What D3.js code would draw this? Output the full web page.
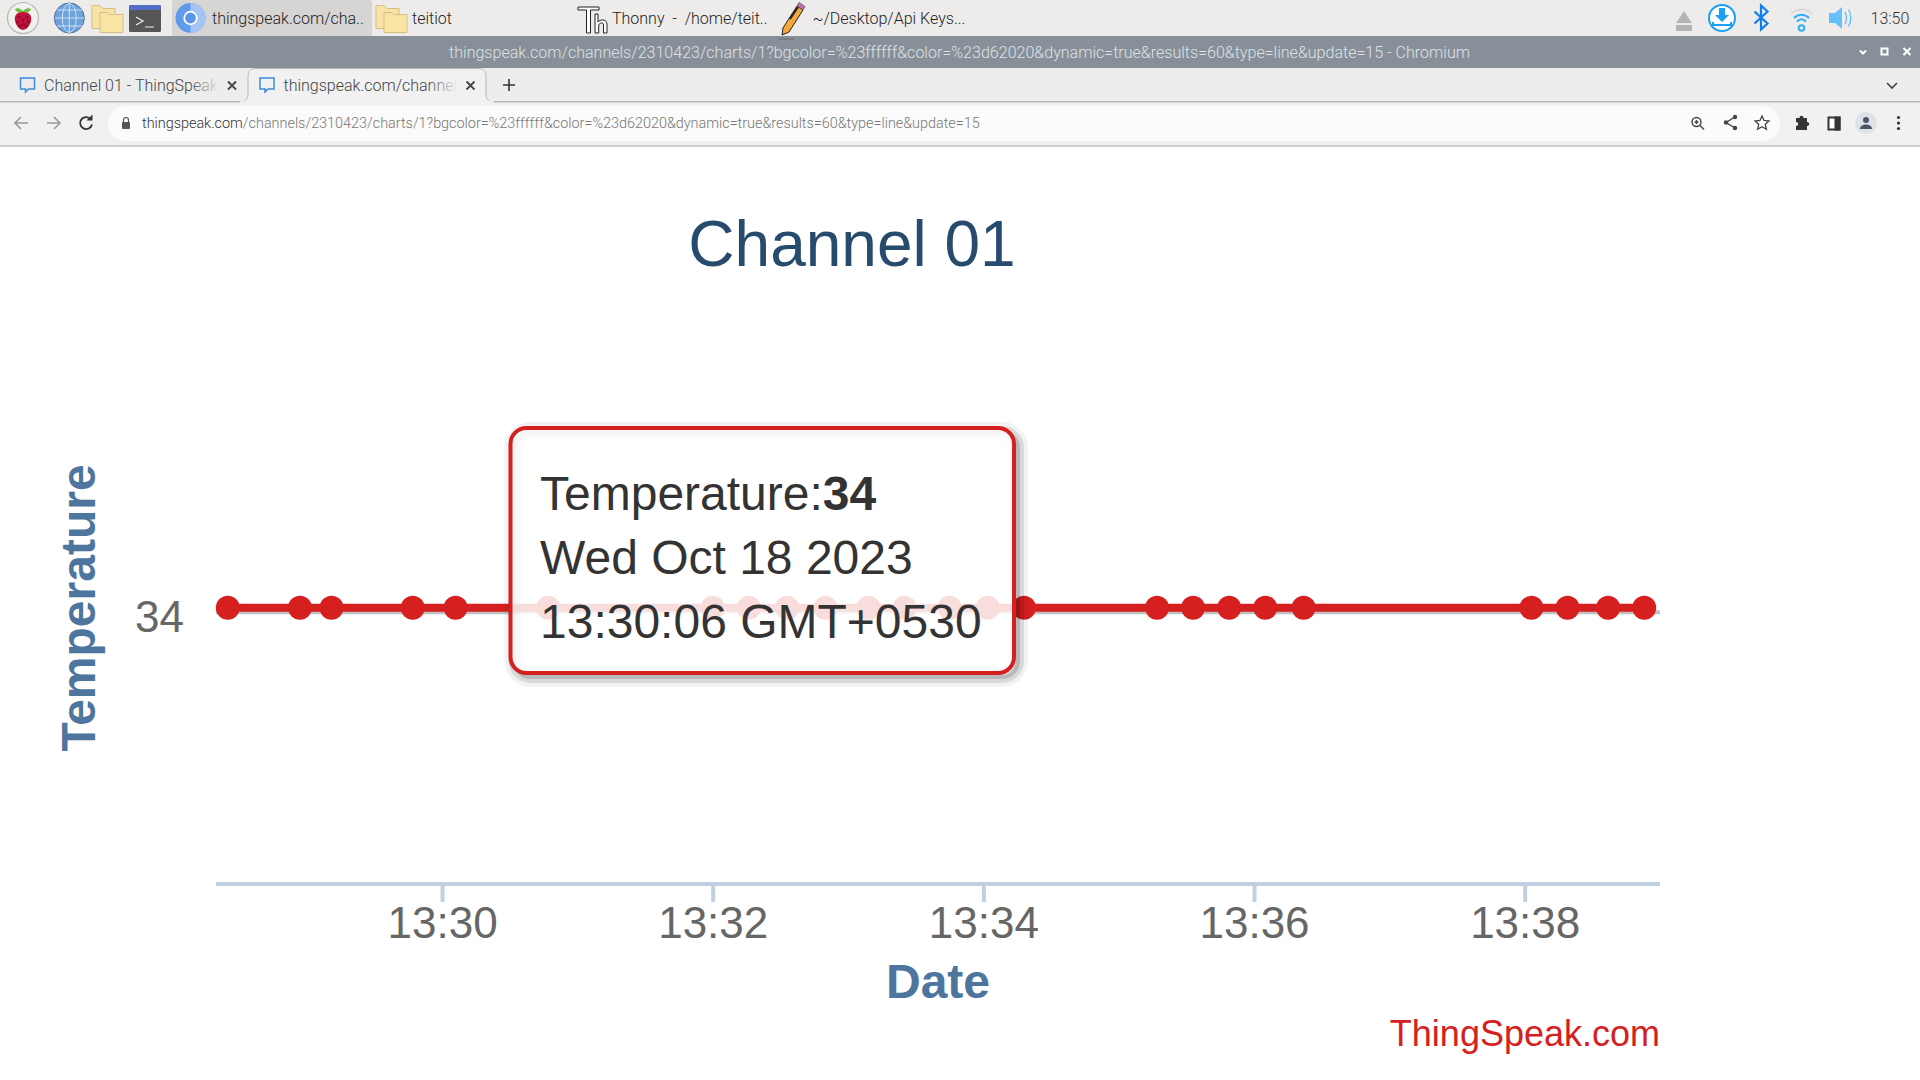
<!DOCTYPE html>
<html><head><meta charset="utf-8"><title>Channel 01</title>
<script src="https://d3js.org/d3.v7.min.js"></script>
<style>html,body{margin:0;padding:0;background:#fff;overflow:hidden}svg{display:block}
.ui{font-family:Roboto,sans-serif;font-weight:300}
.ch{font-family:"Liberation Sans",Arial,sans-serif}</style></head><body>
<svg id="s" width="1920" height="1080" xmlns="http://www.w3.org/2000/svg"></svg>
<script>
// ---- data ----
const chartTitle = "Channel 01";
const seriesName = "Temperature";
const xTitle = "Date";
const credit = "ThingSpeak.com";
const sampleTimes = ["13:28:25","13:28:57","13:29:11","13:29:47","13:30:06","13:30:47","13:32:00","13:32:16","13:32:33","13:32:50","13:33:09","13:33:25","13:33:45","13:34:02","13:34:18","13:35:17","13:35:33","13:35:49","13:36:05","13:36:22","13:38:03","13:38:19","13:38:37","13:38:53"];
const temperatures = [34,34,34,34,34,34,34,34,34,34,34,34,34,34,34,34,34,34,34,34,34,34,34,34];
const xTickLabels = ["13:30","13:32","13:34","13:36","13:38"];
const yTickLabels = [34];
const axisStart = "13:28:20", axisEnd = "13:39:00";
const tooltipLines = ["Wed Oct 18 2023","13:30:06 GMT+0530"];
const tooltipLabel = "Temperature:", tooltipValue = "34";

const parseT = d3.timeParse("%Y-%m-%d %H:%M:%S");
const T = s => parseT("2023-10-18 " + (s.length===5 ? s+":00" : s));
const data = sampleTimes.map((t,i)=>({t:T(t),v:temperatures[i]}));

const svg = d3.select("#s");
const RED="#d62020";

// ---- browser chrome ----
const ui = svg.append("g").attr("class","ui");
const defs = svg.append("defs");
const rect=(p,x,y,w,h,f,r)=>p.append("rect").attr("x",x).attr("y",y).attr("width",w).attr("height",h).attr("fill",f).attr("rx",r||0);
const path=(p,d,f,st,sw)=>p.append("path").attr("d",d).attr("fill",f||"none").attr("stroke",st||"none").attr("stroke-width",sw||1);
const circ=(p,x,y,r,f,st,sw)=>p.append("circle").attr("cx",x).attr("cy",y).attr("r",r).attr("fill",f||"none").attr("stroke",st||"none").attr("stroke-width",sw||1);
const text=(p,x,y,s,size,f,anc)=>p.append("text").attr("x",x).attr("y",y).attr("font-size",size).attr("fill",f).attr("text-anchor",anc||"start").text(s);

rect(ui,0,0,1920,36,"#edecea");
rect(ui,172,0,200,36,"#d6d5d3",2);
rect(ui,0,36,1920,32,"#879099");
rect(ui,0,68,1920,33,"#ededed");
rect(ui,0,101,1920,44,"#f1f1f1");
rect(ui,0,145,1920,2,"#cfcfcf");
rect(ui,0,101,1920,1.5,"#b6b6b6");
rect(ui,108,106,1672,35,"#fbfbfb",17.5);

// active tab
path(ui,"M240 101.5 C246 101.5 248 99 248 94 L248 76 C248 71 251 68.5 256 68.5 L478 68.5 C483 68.5 486 71 486 76 L486 94 C486 99 488 101.5 494 101.5 Z","#f1f1f1","#b6b6b6",1);
rect(ui,240,100.5,254,3,"#f1f1f1");

// task bar icons
circ(ui,23,18,15.5,"#f0f0ee","#b9b9b9",1.2);
path(ui,"M15 9 C18 7 21 9 23 11 C25 9 28 7 31 9 C30 12 27 13 23 13 C19 13 16 12 15 9Z","#6cbf3c");
path(ui,"M23 12 C29 12 32 15 31 21 C30 26 26 30 23 30 C20 30 16 26 15 21 C14 15 17 12 23 12Z","#c5113c");
[[19,17],[27,17],[23,20],[17.5,22],[28.5,22],[20,26],[26,26],[23,24.5]].forEach(([x,y])=>circ(ui,x,y,1.6,"#8f0a2c"));
circ(ui,69.3,18,15,"#6ea3dc","#4f6f93",1);
const gl=ui.append("g").attr("stroke","#cfe0f3").attr("stroke-width",1).attr("fill","none");
gl.append("ellipse").attr("cx",69.3).attr("cy",18).attr("rx",7).attr("ry",14.5);
gl.append("path").attr("d","M69.3 3.5V32.5M55 18H84M57 10H82M57 26H82");
const folder=(x,y,s)=>{
 path(ui,`M${x} ${y}h${8*s}l${3*s} ${3*s}h${12*s}v${20*s}h${-23*s}z`,"#f7e3a6","#d6bf85",1);
 path(ui,`M${x+8*s} ${y+7*s}h${8*s}l${2*s} ${2*s}h${13*s}v${18*s}h${-23*s}z`,"#f9e4a4","#d6bf85",1);
};
folder(92,5.5,1);folder(376,5.5,1);
rect(ui,129,5,32,27,"#565656",1.5);rect(ui,129,5,32,5,"#5470c6",1.5);
path(ui,"M136 17l7 4-7 4M145 27h9",null,"#eee",1.2);
const chromeIcon=(x,y,r)=>{circ(ui,x,y,r,"#5f9bea");path(ui,`M${x} ${y-r}A${r} ${r} 0 0 1 ${x} ${y+r}Z`,"#a4c5f4");circ(ui,x,y,r*.48,"#fff");circ(ui,x,y,r*.36,"#5a95ea");};
chromeIcon(190.5,18,15);
// Thonny
const th=ui.append("g").attr("fill","#fff").attr("stroke","#222").attr("stroke-width",1);
th.append("path").attr("d","M578 7h21v3h-8.5v23h-4V10H578z");
th.append("path").attr("d","M595 14h3v8c1-1.5 3-2 4.500-2 3 0 4.500 1.500 4.500 5v8h-3.500v-8c0-1.500-.5-2-1.800-2-1.700 0-3 1-3 3v7H595z");
// pencil
path(ui,"M783 28 L797 6 L803 10 L789 32 L782 35Z","#f2a73b","#222",1);
path(ui,"M797 6l2-3.500 6 4-2 3.500z","#c86cb0","#555",.8);
path(ui,"M790 19l8-12","none","#222",2);
path(ui,"M779 39h15",null,"#666",1);
// tray
path(ui,"M1684 11l8 12h-16zM1676 25h16v6h-16z","#b4b4b4");
circ(ui,1722,18,13,"#fff","#1da0f2",2);
path(ui,"M1719 8h6v7h4l-7 7-7-7h4z","#1da0f2");
path(ui,"M1713 22v3h18v-3",null,"#1da0f2",2);
path(ui,"M1754.500 11.500l13 12-6.500 6v-24l6.500 6-13 12",null,"#0e7ef0",2.2);
path(ui,"M1791 14c6-6 15-6 21 0",null,"#d9d9d9",2);
path(ui,"M1794 18c4-4.500 11-4.500 15 0",null,"#2fb0f7",2);
path(ui,"M1797 21.500c3-3 6-3 9 0",null,"#2fb0f7",2);
circ(ui,1801.500,28,2.800,"none","#2fb0f7",2);
path(ui,"M1829 13h6l7-6v22l-7-6h-6z","#66c1fa");
path(ui,"M1845 12c2 3 2 9 0 12M1848.500 9.500c3 5 3 12 0 17",null,"#66c1fa",1.4);
text(ui,1870.500,23.500,"13:50",16,"#333");
text(ui,212,23.500,"thingspeak.com/cha..",16,"#222");
text(ui,412,23.500,"teitiot",16,"#222");
text(ui,612,23.500,"Thonny  -  /home/teit..",16,"#222").style("white-space","pre");
text(ui,812.500,23.500,"~/Desktop/Api Keys...",16,"#222");

// title bar
text(ui,959.500,57.500,"thingspeak.com/channels/2310423/charts/1?bgcolor=%23ffffff&color=%23d62020&dynamic=true&results=60&type=line&update=15 - Chromium",16.06,"#dfe2e5","middle");
path(ui,"M1860 50.500l3 3 3-3",null,"#fff",2);
path(ui,"M1881.500 48.500h6v6h-6z",null,"#fff",2);
path(ui,"M1903.500 48l7 7M1910.500 48l-7 7",null,"#fff",2);

// tabs
const bubble=x=>path(ui,`M${x} 78h14v11h-6l-3 3v-3h-5z`,"none","#3d8bdc",1.5);
bubble(20.500);bubble(260);
const fade=defs.append("linearGradient").attr("id","f1");
fade.append("stop").attr("offset",0).attr("stop-color","#ededed").attr("stop-opacity",0);
fade.append("stop").attr("offset",1).attr("stop-color","#ededed");
const fade2=defs.append("linearGradient").attr("id","f2");
fade2.append("stop").attr("offset",0).attr("stop-color","#f1f1f1").attr("stop-opacity",0);
fade2.append("stop").attr("offset",1).attr("stop-color","#f1f1f1");
defs.append("clipPath").attr("id","c1").append("rect").attr("x",40).attr("y",70).attr("width",180).attr("height",30);
defs.append("clipPath").attr("id","c2").append("rect").attr("x",280).attr("y",70).attr("width",178).attr("height",30);
text(ui,44,90.500,"Channel 01 - ThingSpeak",16,"#444").attr("clip-path","url(#c1)");
text(ui,283.500,90.500,"thingspeak.com/channels",16,"#444").attr("clip-path","url(#c2)");
rect(ui,190,70,30,30,"url(#f1)");rect(ui,428,70,30,30,"url(#f2)");
const x_=(x,y)=>path(ui,`M${x-4} ${y-4}l8 8M${x+4} ${y-4}l-8 8`,null,"#444",1.8);
x_(232,85.500);x_(470.500,85.500);
path(ui,"M509 79v12M503 85h12",null,"#333",1.6);
path(ui,"M1887 83l5 5 5-5",null,"#444",1.6);

// toolbar
path(ui,"M28 123H15M21 117l-6 6 6 6",null,"#999",1.6);
path(ui,"M47 123h13M54 117l6 6-6 6",null,"#999",1.6);
path(ui,"M91 119.500a6 6 0 1 0 1 5",null,"#333",1.8);
path(ui,"M92.500 114.500v6h-6z","#333");
rect(ui,122,122,8,7,"#555",1);
path(ui,"M123.500 122v-2a2.500 2.500 0 0 1 5 0v2",null,"#555",1.2);
const urlText=ui.append("text").attr("x",142).attr("y",128).attr("font-size",14.4);
urlText.append("tspan").attr("fill","#333").text("thingspeak.com");
urlText.append("tspan").attr("fill","#777").text("/channels/2310423/charts/1?bgcolor=%23ffffff&color=%23d62020&dynamic=true&results=60&type=line&update=15");
circ(ui,1696.500,122,4.500,"none","#444",1.4);
path(ui,"M1700 125.500l4 4M1696.500 120v4M1694.500 122h4",null,"#444",1.4);
path(ui,"M1735 117l-9 5.500 9 5.500",null,"#444",1.4);
circ(ui,1735,117,2.200,"#444");circ(ui,1726,122.500,2.200,"#444");circ(ui,1735,128,2.200,"#444");
path(ui,"M1762 116l2 4.500 5 .5-3.700 3.300 1.100 5-4.400-2.600-4.400 2.600 1.100-5-3.700-3.300 5-.5z",null,"#444",1.3);
path(ui,"M1796 118h3.500c0-3 4-3 4 0h3.500v4c3 0 3 4 0 4v4h-11v-4c3 0 3-4 0-4z","#333");
rect(ui,1828.500,117.500,11,12,"#fff").attr("stroke","#333").attr("stroke-width",2);
rect(ui,1834.500,116.500,6,14,"#333");
circ(ui,1866,123,11,"#dfe3e8");circ(ui,1866,120,3,"#4a5568");path(ui,"M1860 129c0-6 12-6 12 0z","#4a5568");
[117.500,123,128.500].forEach(y=>circ(ui,1898.500,y,1.600,"#333"));

// ---- chart ----
const ch = svg.append("g").attr("class","ch");
const x = d3.scaleTime().domain([T(axisStart),T(axisEnd)]).range([216.5,1660]);
const y = d3.scaleLinear().domain([33,35]).range([832,383.400]);

ch.append("text").attr("x",852).attr("y",266).attr("font-size",64).attr("fill","#274b6d").attr("text-anchor","middle").text(chartTitle);

// y grid + label
ch.append("g").selectAll("line").data(yTickLabels).join("line")
 .attr("x1",216).attr("x2",1660).attr("y1",d=>y(d)+4.500).attr("y2",d=>y(d)+4.500)
 .attr("stroke","#c0c0c0").attr("stroke-width",4);
ch.append("g").selectAll("text").data(yTickLabels).join("text")
 .attr("x",184).attr("y",d=>y(d)+24.300).attr("font-size",44).attr("fill","#666").attr("text-anchor","end").text(d=>d);
ch.append("text").attr("transform","translate(95,608) rotate(-90)").attr("font-size",48).attr("font-weight",700)
 .attr("fill","#4d759e").attr("text-anchor","middle").text(seriesName);

// x axis
const fmt=d3.timeFormat("%H:%M");
const axis=d3.axisBottom(x).tickValues(xTickLabels.map(T)).tickFormat(fmt).tickSize(18).tickPadding(0);
const gx=ch.append("g").attr("transform","translate(0,884)").call(axis);
gx.select(".domain").attr("d","M216 0H1660").attr("stroke","#c0d0e0").attr("stroke-width",4);
gx.selectAll(".tick line").attr("stroke","#c0d0e0").attr("stroke-width",4);
gx.selectAll(".tick text").attr("font-family",'"Liberation Sans",Arial,sans-serif').attr("font-size",44).attr("fill","#666").attr("y",53.500).attr("dy",0).attr("dx",0);
ch.append("text").attr("x",938).attr("y",998).attr("font-size",48).attr("font-weight",700).attr("fill","#4d759e").attr("text-anchor","middle").text(xTitle);
ch.append("text").attr("x",1660).attr("y",1046).attr("font-size",36).attr("fill",RED).attr("text-anchor","end").text(credit);

// series
const line=d3.line().x(d=>x(d.t)).y(d=>y(d.v));
ch.append("path").datum(data).attr("d",line).attr("fill","none").attr("stroke",RED).attr("stroke-width",8);
ch.append("g").selectAll("circle").data(data).join("circle").attr("cx",d=>x(d.t)).attr("cy",d=>y(d.v)).attr("r",12).attr("fill",RED);

// tooltip
const tt=ch.append("g");
const bx=510.500,by=428,bw=503.500,bh=245;
[[20,.05],[12,.1],[4,.15]].forEach(([w,o])=>{
 tt.append("rect").attr("x",bx+4).attr("y",by+4).attr("width",bw).attr("height",bh).attr("rx",16).attr("fill","none").attr("stroke","#000").attr("stroke-opacity",o).attr("stroke-width",w);
});
tt.append("rect").attr("x",bx).attr("y",by).attr("width",bw).attr("height",bh).attr("rx",16).attr("fill","#fff").attr("fill-opacity",.85).attr("stroke",RED).attr("stroke-width",4);
const l1=tt.append("text").attr("x",540).attr("y",510).attr("font-size",48).attr("fill","#333");
l1.append("tspan").text(tooltipLabel);
l1.append("tspan").attr("font-weight",700).text(tooltipValue);
tooltipLines.forEach((s,i)=>tt.append("text").attr("x",540).attr("y",574+i*64).attr("font-size",48).attr("fill","#333").text(s));
</script></body></html>
